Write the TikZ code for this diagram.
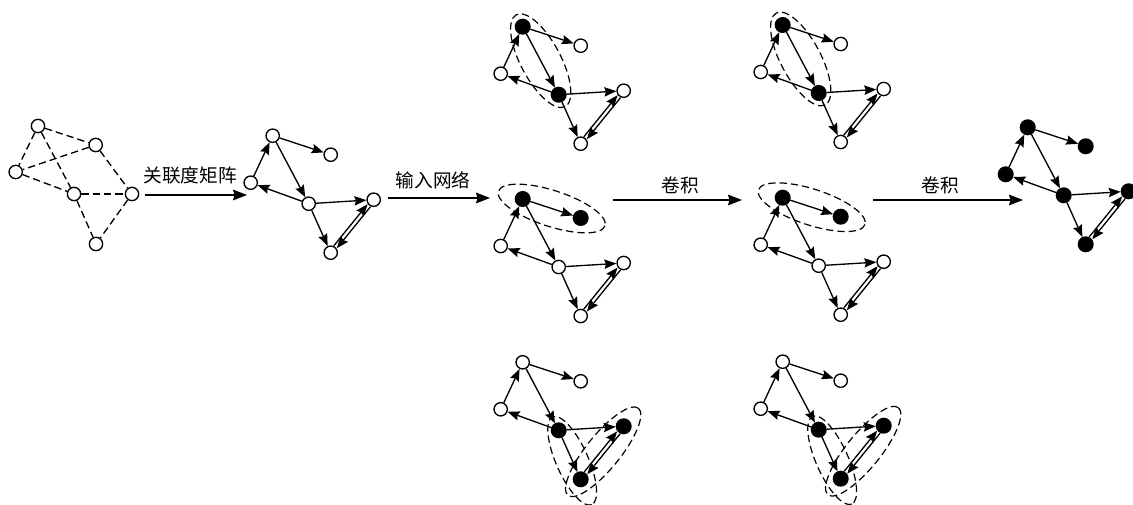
\documentclass[tikz,border=0pt]{standalone}
\usepackage{fontspec}
\newfontfamily\cjk{Noto Sans CJK SC}
\usetikzlibrary{arrows.meta,calc}

\tikzset{
  vtx/.style={circle, draw, line width=1pt, fill=white, inner sep=0pt, minimum size=10pt},
  hot/.style={vtx, fill=black, minimum size=11pt},
  edge/.style={line width=1pt, -{Stealth[length=9pt,width=7pt,inset=1.2pt]}},
  link/.style={line width=1pt, dash pattern=on 5.5pt off 3pt},
  ring/.style={line width=0.9pt, dash pattern=on 5.5pt off 3pt},
  flow/.style={line width=1.1pt, -{Stealth[length=10.5pt,width=8pt,inset=1.2pt]}},
  lbl/.style={font=\cjk\fontsize{14pt}{16pt}\selectfont, inner sep=0pt},
}

% One directed network: #1 name prefix, #2 position of the top vertex,
% #3..#8 styles of the vertices t, r, l, m, q, b
\newcommand\netgraph[8]{%
  \begin{scope}[shift={(#2)}, name prefix=#1-]
    \node[#3] (t) at (0,0) {};
    \node[#4] (r) at (58,19) {};
    \node[#5] (l) at (-22,47) {};
    \node[#6] (m) at (36,68) {};
    \node[#7] (q) at (101,64) {};
    \node[#8] (b) at (58,117) {};
    \draw[edge] (l) -- (t);
    \draw[edge] (t) -- (r);
    \draw[edge] (t) -- (m);
    \draw[edge] (m) -- (l);
    \draw[edge] (m) -- (q);
    \draw[edge] (m) -- (b);
    \draw[edge, transform canvas={shift={(-1.5,-1.2)}}] (b) -- (q);
    \draw[edge, transform canvas={shift={(1.5,1.2)}}] (q) -- (b);
  \end{scope}}

% Dashed ring around a group of vertices: #1 name, #2 centre, #3 angle, #4 radii
\newcommand\ringat[4]{%
  \coordinate (#1) at #2;
  \draw[ring, rotate around={#3:(#1)}] (#1) ellipse (#4);}

\begin{document}
\begin{tikzpicture}[x=0.75pt, y=-0.75pt]
  \useasboundingbox (0,0) rectangle (1133,505);

  % undirected source network
  \node[vtx] (A) at (38,126) {};
  \node[vtx] (B) at (95.7,145) {};
  \node[vtx] (C) at (15.7,172) {};
  \node[vtx] (D) at (74,194) {};
  \node[vtx] (E) at (132,194) {};
  \node[vtx] (F) at (96,244) {};
  \foreach \u/\v in {A/B, A/C, A/D, B/C, B/E, C/D, D/E, D/F, E/F}
    \draw[link] (\u) -- (\v);

  % directed network
  \netgraph{g1}{272.7,135.7}{vtx}{vtx}{vtx}{vtx}{vtx}{vtx}

  % input column
  \netgraph{c2a}{522.7,26.7}{hot}{vtx}{vtx}{hot}{vtx}{vtx}
  \netgraph{c2b}{522.7,199}{hot}{hot}{vtx}{vtx}{vtx}{vtx}
  \netgraph{c2c}{522.7,362.3}{vtx}{vtx}{vtx}{hot}{hot}{hot}
  \ringat{c2a-e}{($(c2a-t)!0.5!(c2a-m)$)}{-62}{52 and 20}
  \ringat{c2b-e}{($(c2b-t)!0.5!(c2b-r)$)}{-18}{56 and 18}
  \ringat{c2c-e1}{($(c2c-m)!0.5!(c2c-b)+(2.5,6)$)}{-66}{48 and 16}
  \ringat{c2c-e2}{($(c2c-q)!0.5!(c2c-b)+(1,-1)$)}{51}{56 and 17}

  % first convolution column
  \netgraph{c3a}{782.7,25}{hot}{vtx}{vtx}{hot}{vtx}{vtx}
  \netgraph{c3b}{782.7,197.7}{hot}{hot}{vtx}{vtx}{vtx}{vtx}
  \netgraph{c3c}{782.7,361.7}{vtx}{vtx}{vtx}{hot}{hot}{hot}
  \ringat{c3a-e}{($(c3a-t)!0.5!(c3a-m)$)}{-62}{52 and 20}
  \ringat{c3b-e}{($(c3b-t)!0.5!(c3b-r)$)}{-18}{56 and 18}
  \ringat{c3c-e1}{($(c3c-m)!0.5!(c3c-b)+(2.5,6)$)}{-66}{48 and 16}
  \ringat{c3c-e2}{($(c3c-q)!0.5!(c3c-b)+(1,-1)$)}{51}{56 and 17}

  % result
  \netgraph{g4}{1027.7,127.3}{hot}{hot}{hot}{hot}{hot}{hot}

  % stage arrows and their labels
  \coordinate (s1) at (145,195);  \coordinate (e1) at (247,195);
  \coordinate (s2) at (388,198);  \coordinate (e2) at (490,198);
  \coordinate (s3) at (613,200);  \coordinate (e3) at (742,200);
  \coordinate (s4) at (873,200);  \coordinate (e4) at (1023,200);
  \draw[flow] (s1) -- (e1);
  \draw[flow] (s2) -- (e2);
  \draw[flow] (s3) -- (e3);
  \draw[flow] (s4) -- (e4);
  \node[lbl] (t1) at (190,175) {关联度矩阵};
  \node[lbl] (t2) at (433,180) {输入网络};
  \node[lbl] (t3) at (680,185) {卷积};
  \node[lbl] (t4) at (940,185) {卷积};
\end{tikzpicture}
\end{document}
